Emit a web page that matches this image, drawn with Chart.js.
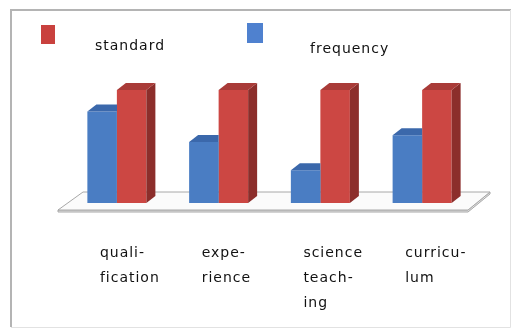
<!DOCTYPE html>
<html>
<head>
<meta charset="utf-8">
<script src="https://cdn.jsdelivr.net/npm/chart.js@4/dist/chart.umd.min.js"></script>
<style>
  html, body { margin: 0; padding: 0; background: #fff; overflow: hidden; }
  canvas { display: block; }
</style>
</head>
<body>
<canvas id="chart" width="517" height="329"></canvas>
<script>
// Categories (each entry is a list of label lines)
const categories = [
  ['quali-', 'fication'],
  ['expe-', 'rience'],
  ['science', 'teach-', 'ing'],
  ['curricu-', 'lum']
];
const seriesNames = ['frequency', 'standard'];
const frequencyValues = [81, 54, 29, 60];
const standardValues = [100, 100, 100, 100];
const legendOrder = ['standard', 'frequency'];

const FONT = '14px "DejaVu Sans", sans-serif';
const TEXT_COLOR = '#111111';
const DEPTH_X = 9, DEPTH_Y = 7;

const palette = {
  frequency: { front: '#4a7dc3', top: '#3b68ab', side: '#2f5690', key: '#4f81cf' },
  standard:  { front: '#cc4743', top: '#a93b38', side: '#8c2e2b', key: '#c9413e' }
};

function poly(ctx, pts) {
  ctx.beginPath();
  ctx.moveTo(pts[0], pts[1]);
  for (let i = 2; i < pts.length; i += 2) ctx.lineTo(pts[i], pts[i + 1]);
  ctx.closePath();
  ctx.fill();
}

// White panel with a thin grey frame
const framePlugin = {
  id: 'frame',
  beforeDraw(chart) {
    const ctx = chart.ctx;
    ctx.save();
    ctx.fillStyle = '#ffffff';
    ctx.fillRect(0, 0, chart.width, chart.height);
    ctx.lineWidth = 2;
    ctx.strokeStyle = '#b4b4b4';
    ctx.beginPath();
    ctx.moveTo(11, 327); ctx.lineTo(11, 10); ctx.lineTo(511, 10);
    ctx.stroke();
    ctx.lineWidth = 1;
    ctx.strokeStyle = '#e2e2e2';
    ctx.beginPath();
    ctx.moveTo(510.5, 10); ctx.lineTo(510.5, 327.5); ctx.lineTo(11, 327.5);
    ctx.stroke();
    ctx.restore();
  }
};

// Floor plane (a thin slab) under the columns
const floorPlugin = {
  id: 'floor',
  beforeDatasetsDraw(chart) {
    const { left, right, bottom } = chart.chartArea;
    const ctx = chart.ctx;
    ctx.save();
    ctx.strokeStyle = '#a8a8a8';
    ctx.lineWidth = 1;
    // front edge thickness
    ctx.beginPath();
    ctx.moveTo(left - 8, bottom + 7);
    ctx.lineTo(right - 5, bottom + 7);
    ctx.lineTo(right + 17, bottom - 11);
    ctx.lineTo(right + 17, bottom - 9);
    ctx.lineTo(right - 5, bottom + 9);
    ctx.lineTo(left - 8, bottom + 9);
    ctx.closePath();
    ctx.fillStyle = '#e4e4e4';
    ctx.fill();
    ctx.stroke();
    // top surface
    ctx.beginPath();
    ctx.moveTo(left - 8, bottom + 7);
    ctx.lineTo(right - 5, bottom + 7);
    ctx.lineTo(right + 17, bottom - 11);
    ctx.lineTo(left + 17, bottom - 11);
    ctx.closePath();
    ctx.fillStyle = '#fbfbfb';
    ctx.fill();
    ctx.stroke();
    ctx.restore();
  }
};

// Side and top faces that give each column its depth
const depthPlugin = {
  id: 'depth',
  afterDatasetsDraw(chart) {
    const ctx = chart.ctx;
    const metas = chart.getSortedVisibleDatasetMetas();
    metas.forEach((meta, mi) => {
      const name = chart.data.datasets[meta.index].label;
      const col = palette[name];
      const isBack = mi === metas.length - 1;
      meta.data.forEach(bar => {
        const { x, y, base, width } = bar.getProps(['x', 'y', 'base', 'width'], true);
        const l = x - width / 2, r = x + width / 2;
        ctx.save();
        if (!isBack) {
          ctx.beginPath();
          ctx.rect(0, 0, r, chart.height);
          ctx.clip();
        }
        ctx.fillStyle = col.side;
        poly(ctx, [r, y, r + DEPTH_X, y - DEPTH_Y, r + DEPTH_X, base - DEPTH_Y, r, base]);
        ctx.fillStyle = col.top;
        poly(ctx, [l, y, l + DEPTH_X, y - DEPTH_Y, r + DEPTH_X, y - DEPTH_Y, r, y]);
        ctx.restore();
      });
    });
  }
};

// Category names under the floor and the legend keys above
const textPlugin = {
  id: 'texts',
  afterDraw(chart) {
    const ctx = chart.ctx;
    const xScale = chart.scales.x;
    const bottom = chart.chartArea.bottom;
    ctx.save();
    ctx.font = FONT;
    ctx.letterSpacing = '1px';
    ctx.fillStyle = TEXT_COLOR;
    ctx.textAlign = 'left';
    ctx.textBaseline = 'alphabetic';
    categories.forEach((lines, i) => {
      const px = xScale.getPixelForValue(i) - 17;
      lines.forEach((line, j) => ctx.fillText(line, px, bottom + 54 + j * 25));
    });

    const keys = [
      { box: [41, 25, 14, 19], text: [95, 50] },
      { box: [247, 23, 16, 20], text: [310, 53] }
    ];
    legendOrder.forEach((name, i) => {
      const k = keys[i];
      ctx.fillStyle = palette[name].key;
      ctx.fillRect(k.box[0], k.box[1], k.box[2], k.box[3]);
      ctx.fillStyle = TEXT_COLOR;
      ctx.fillText(name, k.text[0], k.text[1]);
    });
    ctx.restore();
  }
};

new Chart(document.getElementById('chart'), {
  type: 'bar',
  data: {
    labels: categories,
    datasets: [
      { label: seriesNames[0], data: frequencyValues, backgroundColor: palette.frequency.front },
      { label: seriesNames[1], data: standardValues, backgroundColor: palette.standard.front }
    ]
  },
  options: {
    responsive: false,
    animation: false,
    devicePixelRatio: 1,
    layout: { padding: { left: 66, right: 44, top: 90, bottom: 126 } },
    datasets: { bar: { categoryPercentage: 0.58, barPercentage: 1, borderWidth: 0 } },
    scales: {
      x: { display: false, offset: true },
      y: { display: false, min: 0, max: 100 }
    },
    plugins: { legend: { display: false }, tooltip: { enabled: false } }
  },
  plugins: [framePlugin, floorPlugin, depthPlugin, textPlugin]
});
</script>
</body>
</html>
